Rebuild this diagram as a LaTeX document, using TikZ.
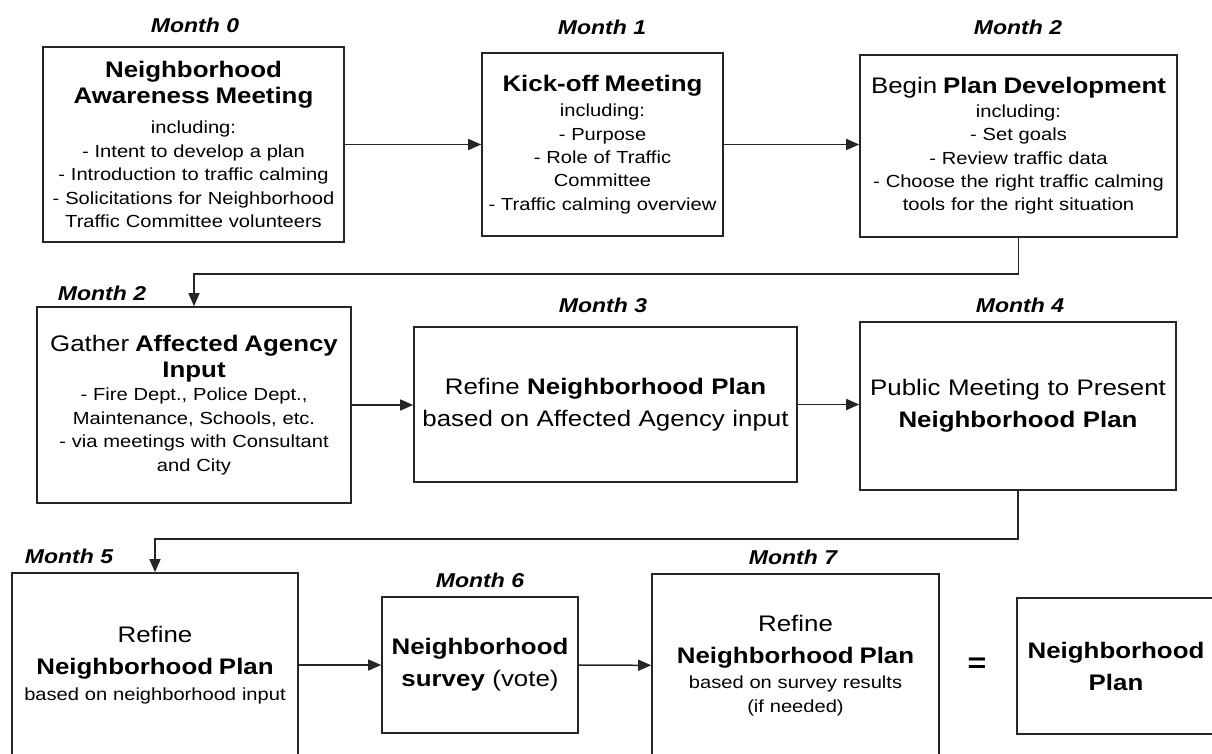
\documentclass[tikz,border=0pt]{standalone}
\usepackage{fontspec}
\setmainfont{Liberation Sans}[FakeStretch=1.15]
\usetikzlibrary{arrows.meta}
\setlength{\parindent}{0pt}

\newcommand{\boxtitle}{\fontsize{22.5}{26}\selectfont}
\newcommand{\boxbody}{\fontsize{17.5}{23.4}\selectfont}
\newcommand{\boxlarge}{\fontsize{22.5}{32}\selectfont}

\begin{document}
\begin{tikzpicture}[x=1pt, y=-1pt,
    box/.style 2 args={draw=black!85, line width=1.6pt, align=center, inner sep=0pt,
      minimum width=#1, text width=#1, minimum height=#2, font=\boxbody},
    month/.style={font=\fontsize{20}{20}\selectfont\bfseries\itshape},
    flow/.style={draw=black!85, line width=1.5pt, -{Triangle[length=13pt,width=11pt]}}]
    \useasboundingbox (0,0) rectangle (1212,754);
    \clip (0,0) rectangle (1212,754);

    % top row
    \node[box={301}{195}] (awareness) at (193.5,144.5)
        {{\boxtitle\bfseries Neighborhood\\ Awareness Meeting\par}\vspace{7pt}
         including:\\ - Intent to develop a plan\\ - Introduction to traffic calming\\
         - Solicitations for Neighborhood\\ Traffic Committee volunteers};
    \node[box={241}{183}] (kickoff) at (602.5,144.5)
        {{\boxtitle\bfseries Kick-off Meeting\par}\vspace{2pt}
         including:\\ - Purpose\\ - Role of Traffic\\ Committee\\ - Traffic calming overview};
    \node[box={317}{182}] (plandev) at (1018.5,146)
        {{\boxtitle Begin \textbf{Plan Development}\par}
         including:\\ - Set goals\\ - Review traffic data\\
         - Choose the right traffic calming\\ tools for the right situation};

    \node[month] (m0) at (195,25) {Month 0};
    \node[month] (m1) at (602,27) {Month 1};
    \node[month] (m2) at (1018,27) {Month 2};

    % middle row
    \node[box={314}{196}] (agency) at (194,405)
        {{\boxtitle Gather \textbf{Affected Agency}\\ \textbf{Input}\par}
         - Fire Dept., Police Dept.,\\ Maintenance, Schools, etc.\\
         - via meetings with Consultant\\ and City};
    \node[box={383}{155}, font=\boxlarge] (refine3) at (605.5,404.5)
        {Refine \textbf{Neighborhood Plan}\\ based on Affected Agency input};
    \node[box={316}{168}, font=\boxlarge] (public) at (1018,406)
        {Public Meeting to Present\\ \textbf{Neighborhood Plan}};

    \node[month] (m2b) at (102,293) {Month 2};
    \node[month] (m3) at (603,305) {Month 3};
    \node[month] (m4) at (1020,305) {Month 4};

    % bottom row
    \node[box={286}{184}] (refine5) at (155,665)
        {{\boxlarge Refine\\ \textbf{Neighborhood Plan}\par}\vspace{2pt}
         based on neighborhood input};
    \node[box={196}{136}, font=\boxlarge] (survey) at (480,665)
        {\textbf{Neighborhood}\\ \textbf{survey} (vote)};
    \node[box={287}{183}] (refine7) at (795.5,665.5)
        {{\boxlarge Refine\\ \textbf{Neighborhood Plan}\par}\vspace{2pt}
         based on survey results\\ (if needed)};
    \node[font=\fontsize{28}{28}\selectfont\bfseries] (equals) at (977,665) {=};
    \node[box={198}{136}, font=\boxlarge] (final) at (1116,666)
        {\textbf{Neighborhood}\\ \textbf{Plan}};

    \node[month] (m5) at (69,556) {Month 5};
    \node[month] (m6) at (480,580) {Month 6};
    \node[month] (m7) at (793,557) {Month 7};

    % connectors
    \draw[flow] (awareness) -- (kickoff);
    \draw[flow] (kickoff.east) -- (kickoff.east -| plandev.west);
    \draw[flow] (plandev.south) -- ++(0,36) -| (agency.north);
    \draw[flow] (agency.east) -- (agency.east -| refine3.west);
    \draw[flow] (refine3.east) -- (refine3.east -| public.west);
    \draw[flow] (public.south) -- ++(0,48) -| (refine5.north);
    \draw[flow] (refine5) -- (survey);
    \draw[flow] (survey) -- (refine7);
\end{tikzpicture}
\end{document}
